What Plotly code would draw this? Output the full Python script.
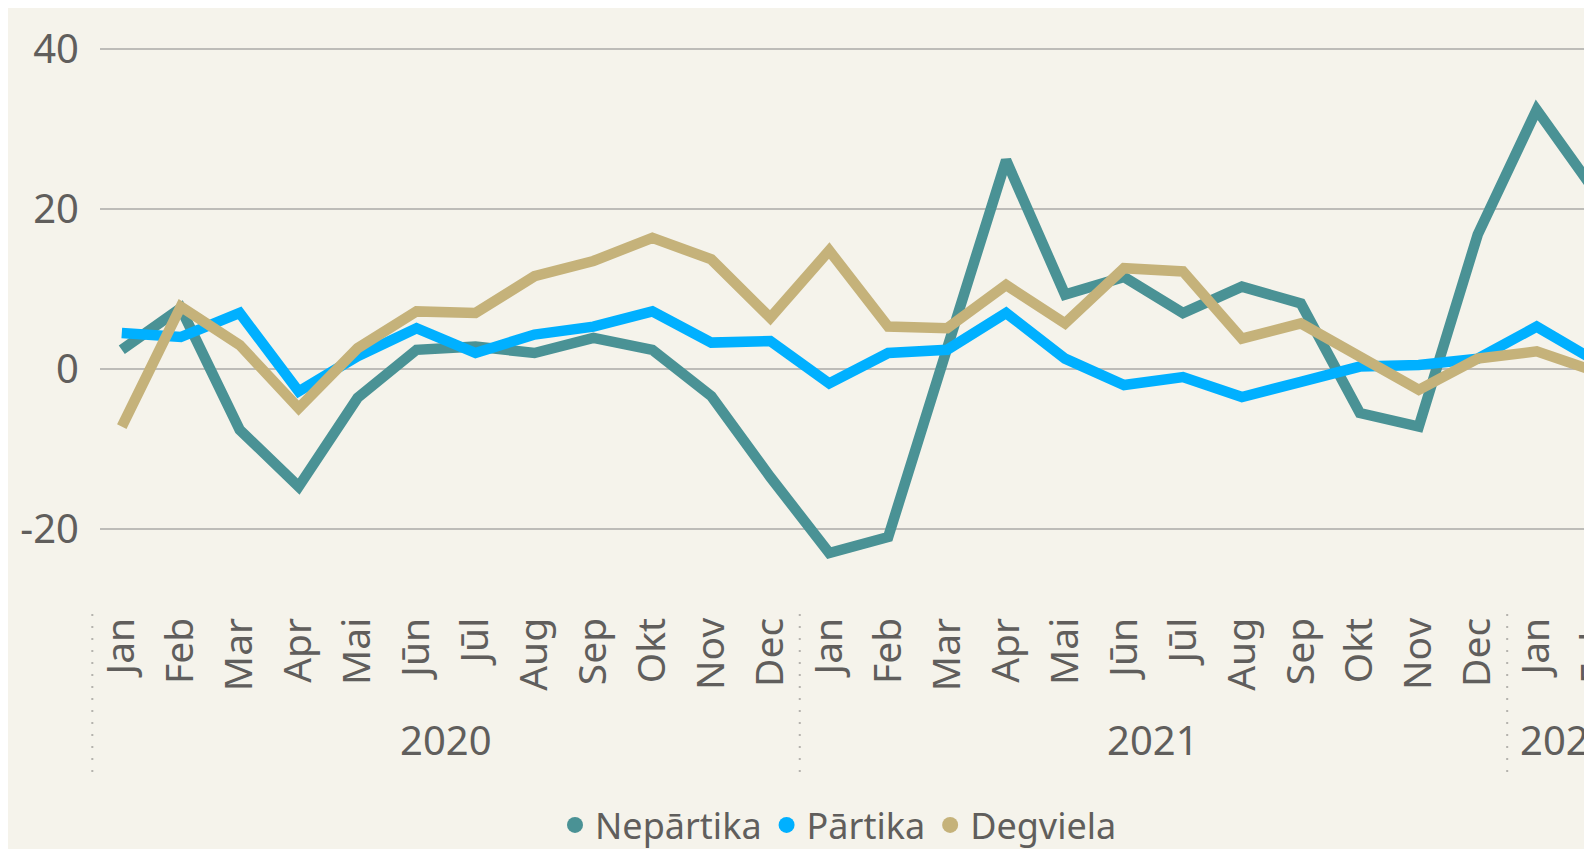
import plotly.graph_objects as go

# ---- data -------------------------------------------------------------
months = ["Jan", "Feb", "Mar", "Apr", "Mai", "Jūn", "Jūl", "Aug", "Sep", "Okt", "Nov", "Dec"]
month_labels = months + months + ["Jan", "Feb"]
years = ["2020"] * 12 + ["2021"] * 12 + ["2022"] * 2
year_groups = ["2020", "2021", "2022"]

series_names = ["Nepārtika", "Pārtika", "Degviela"]
nepartika = [2.4, 7.6, -7.6, -14.7, -3.6, 2.4, 2.8, 2.0, 3.9, 2.4, -3.4, -13.5,
             -23.0, -21.0, 2.6, 26.1, 9.3, 11.5, 7.0, 10.3, 8.2, -5.5, -7.2, 16.8,
             32.4, 22.1]
partika = [4.5, 4.0, 7.0, -2.8, 1.6, 5.1, 2.0, 4.3, 5.3, 7.2, 3.3, 3.5,
           -1.8, 2.0, 2.4, 7.0, 1.3, -2.0, -1.0, -3.5, -1.6, 0.3, 0.5, 1.3,
           5.3, 1.0]
degviela = [-7.2, 7.8, 3.0, -4.9, 2.6, 7.2, 7.0, 11.6, 13.5, 16.4, 13.7, 6.4,
            14.8, 5.3, 5.1, 10.5, 5.7, 12.6, 12.2, 3.8, 5.7, 1.7, -2.6, 1.3,
            2.2, -0.3]
y_ticks = [-20, 0, 20, 40]
y_tick_labels = ["-20", "0", "20", "40"]

# ---- style ------------------------------------------------------------
colors = ["#4A9295", "#00B0FF", "#C5B27A"]
bg = "#F5F3EB"
txt = "#605E5C"
font = "Noto Sans"

# page offset of the figure (browser body margin) is 8 px
ML, MR, MT, MB = 92, 0, 33, 248
step_px = 58.97
first_px = 113.8                     # x of first category inside the figure
x0 = (ML - first_px) / step_px
x1 = 25.6                            # visual continues past the window edge
W = int(round(ML + (x1 - x0) * step_px))
H = 849
plot_w = W - ML - MR
plot_h = H - MT - MB

xpos = list(range(len(month_labels)))

def paper_x(v):
    return (v - x0) / (x1 - x0)

fig = go.Figure()
for name, vals, c in zip(series_names, [nepartika, partika, degviela], colors):
    fig.add_trace(go.Scatter(x=xpos, y=vals, mode="lines", name=name,
                             line=dict(color=c, width=10.5), showlegend=False,
                             hoverinfo="skip"))
for name, c in zip(series_names, colors):
    fig.add_trace(go.Scatter(x=[None], y=[None], mode="markers", name=name,
                             marker=dict(color=c, size=16), showlegend=True))

# year group separators (dotted) and year labels
shapes = []
bounds = [i for i in range(len(years)) if i == 0 or years[i] != years[i - 1]]
for b in bounds:
    shapes.append(dict(type="line", xref="paper", yref="paper",
                       x0=paper_x(b - 0.5), x1=paper_x(b - 0.5),
                       y0=-5 / plot_h, y1=-164 / plot_h,
                       line=dict(color="#B5B3AE", width=2, dash="2px,10px")))

annotations = []
for yname in year_groups:
    idx = [i for i, yy in enumerate(years) if yy == yname]
    center = (idx[0] + idx[-1]) / 2
    annotations.append(dict(text=yname, xref="x", yref="paper",
                            x=center, y=0, yanchor="middle", xanchor="center",
                            yshift=-130, showarrow=False,
                            font=dict(family=font, size=40, color=txt)))

fig.update_layout(
    width=W, height=H,
    margin=dict(l=ML, r=MR, t=MT, b=MB, pad=0),
    paper_bgcolor=bg, plot_bgcolor=bg,
    font=dict(family=font, color=txt),
    xaxis=dict(range=[x0, x1], tickmode="array", tickvals=xpos,
               ticktext=month_labels, tickangle=-90, showgrid=False,
               zeroline=False, showline=False, ticks="",
               tickfont=dict(family=font, size=39, color=txt)),
    yaxis=dict(range=[-30, 41], tickmode="array", tickvals=y_ticks,
               ticktext=y_tick_labels,
               showgrid=True, gridcolor="#BDBCB8", gridwidth=2,
               zeroline=True, zerolinecolor="#BDBCB8", zerolinewidth=2,
               showline=False, ticks="", ticklabelstandoff=20,
               tickfont=dict(family=font, size=40, color=txt)),
    legend=dict(orientation="h", x=(555 - 8 - ML) / plot_w, xanchor="left",
                y=-(817 - (H - MB)) / plot_h, yanchor="middle",
                font=dict(family=font, size=36, color=txt),
                itemsizing="trace", bgcolor="rgba(0,0,0,0)",
                tracegroupgap=0, itemwidth=30),
    shapes=shapes, annotations=annotations,
    showlegend=True,
)

fig.write_html("out.html")
